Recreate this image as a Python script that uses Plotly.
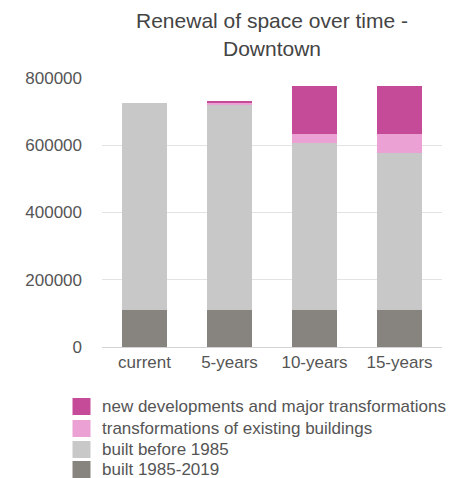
import plotly.graph_objects as go

categories = ["current", "5-years", "10-years", "15-years"]

series_names = [
    "built 1985-2019",
    "built before 1985",
    "transformations of existing buildings",
    "new developments and major transformations",
]
built_1985_2019 = [110000, 110000, 110000, 110000]
built_before_1985 = [615000, 612000, 496000, 466000]
transformations = [0, 4000, 27000, 56000]
new_developments = [0, 6000, 143000, 143000]

colors = ["#878480", "#c8c8c8", "#eba1d3", "#c54b98"]

W, H = 467, 478
L, R, T, B = 102, 25, 78, 131
pw, ph = W - L - R, H - T - B


def px_x(x):
    return (x - L) / pw


def px_y(y):
    return (H - B - y) / ph


fig = go.Figure()
for name, vals, col in zip(series_names,
                           [built_1985_2019, built_before_1985, transformations, new_developments],
                           colors):
    fig.add_trace(go.Bar(name=name, x=categories, y=vals, marker_color=col,
                         marker_line_width=0, showlegend=False))

# legend drawn by hand so that the rows sit as tight as in the original
row_tops = [398, 420, 441, 461]
for i, top in enumerate(row_tops):
    k = len(series_names) - 1 - i
    fig.add_shape(type="rect", xref="paper", yref="paper",
                  x0=px_x(72.5), x1=px_x(90.5), y0=px_y(top), y1=px_y(top + 17),
                  fillcolor=colors[k], line_width=0)
    fig.add_annotation(text=series_names[k], xref="paper", yref="paper",
                       x=px_x(100), y=px_y(top + 8.5), xanchor="left", yanchor="middle",
                       showarrow=False, font=dict(size=17, color="#555555"))

fig.update_layout(
    width=W, height=H,
    barmode="stack", bargap=0.46,
    plot_bgcolor="white", paper_bgcolor="white",
    font=dict(family="Liberation Sans, Arial, sans-serif", size=17, color="#555555"),
    title=dict(text="Renewal of space over time -<br>Downtown", x=0.5, xref="paper", xanchor="center",
               y=0.9405, yanchor="top", font=dict(size=21, color="#444444")),
    margin=dict(l=L, r=R, t=T, b=B),
    xaxis=dict(showgrid=False, showline=True, linecolor="#d3d3d3", ticks="", ticklabelstandoff=0),
    yaxis=dict(range=[0, 800000], dtick=200000, tickformat="d", gridcolor="#e3e3e3",
               zeroline=False, showline=False, ticks="", ticklabelstandoff=19),
    showlegend=False,
)

# page body has an 8px default margin; drop it so the figure fills the window
fig.write_html("out.html", config={"displayModeBar": False},
               post_script="document.body.style.margin='0';")
